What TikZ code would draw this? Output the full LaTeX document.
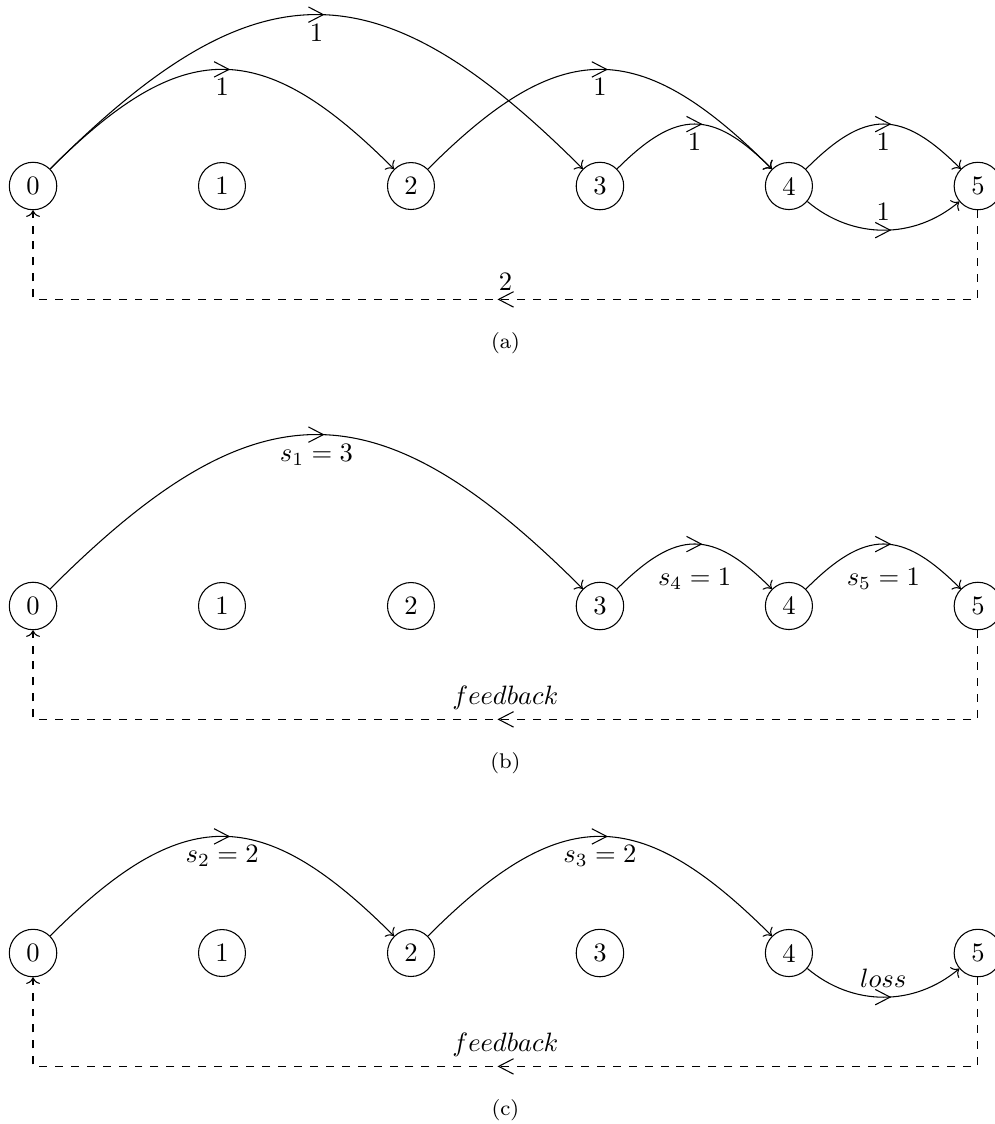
\documentclass[tikz,border=0pt]{standalone}
\usetikzlibrary{decorations.markings, arrows.meta}

\begin{document}
\begin{tikzpicture}[
    vtx/.style={circle, draw},
    midarrow/.style={postaction={decorate}, decoration={markings, mark=at position 0.5 with {\arrow[xshift=3pt]{Straight Barb[length=5.6pt, width=5.8pt]}}}},
    hop/.style={->, midarrow},
    hump/.style={bend left=45, looseness=1.4},
    dip/.style={bend right=40},
    fb/.style={->, dashed, midarrow},
    subcap/.style={font=\footnotesize}
]
    \useasboundingbox (-0.437,-12.409) rectangle (12.726,2.461);

    % (a) Tous les sauts
    \begin{scope}
        \node[vtx] (a0) at (0,0) {0};
        \node[vtx] (a1) at (2.5,0) {1};
        \node[vtx] (a2) at (5,0) {2};
        \node[vtx] (a3) at (7.5,0) {3};
        \node[vtx] (a4) at (10,0) {4};
        \node[vtx] (a5) at (12.5,0) {5};

        \draw[hop] (a0) to[hump] node[below] {$1$} (a2);
        \draw[hop] (a0) to[hump] node[below] {$1$} (a3);
        \draw[hop] (a2) to[hump] node[below] {$1$} (a4);
        \draw[hop] (a3) to[hump] node[below] {$1$} (a4);
        \draw[hop] (a4) to[hump] node[below] {$1$} (a5);
        \draw[hop] (a4) to[dip] node[above] {$1$} (a5);

        \draw[fb] (a5) -- ++(0,-1.5) -- node[above] {$2$} ++(-12.5,0) -- (a0);
        \node[subcap] (capa) at (6.25,-2.08) {(a)};
    \end{scope}

    % (b) Premier chemin
    \begin{scope}[shift={(0,-5.556)}]
        \node[vtx] (b0) at (0,0) {0};
        \node[vtx] (b1) at (2.5,0) {1};
        \node[vtx] (b2) at (5,0) {2};
        \node[vtx] (b3) at (7.5,0) {3};
        \node[vtx] (b4) at (10,0) {4};
        \node[vtx] (b5) at (12.5,0) {5};

        \draw[hop] (b0) to[hump] node[below] {$s_1 = 3$} (b3);
        \draw[hop] (b3) to[hump] node[below=2mm] {$s_4 = 1$} (b4);
        \draw[hop] (b4) to[hump] node[below=2mm] {$s_5 = 1$} (b5);

        \draw[fb] (b5) -- ++(0,-1.5) -- node[above] {$feedback$} ++(-12.5,0) -- (b0);
        \node[subcap] (capb) at (6.25,-2.08) {(b)};
    \end{scope}

    % (c) Second chemin
    \begin{scope}[shift={(0,-10.147)}]
        \node[vtx] (c0) at (0,0) {0};
        \node[vtx] (c1) at (2.5,0) {1};
        \node[vtx] (c2) at (5,0) {2};
        \node[vtx] (c3) at (7.5,0) {3};
        \node[vtx] (c4) at (10,0) {4};
        \node[vtx] (c5) at (12.5,0) {5};

        \draw[hop] (c0) to[hump] node[below] {$s_2 = 2$} (c2);
        \draw[hop] (c2) to[hump] node[below] {$s_3 = 2$} (c4);
        \draw[hop] (c4) to[dip] node[above] {$loss$} (c5);

        \draw[fb] (c5) -- ++(0,-1.5) -- node[above] {$feedback$} ++(-12.5,0) -- (c0);
        \node[subcap] (capc) at (6.25,-2.08) {(c)};
    \end{scope}
\end{tikzpicture}
\end{document}
